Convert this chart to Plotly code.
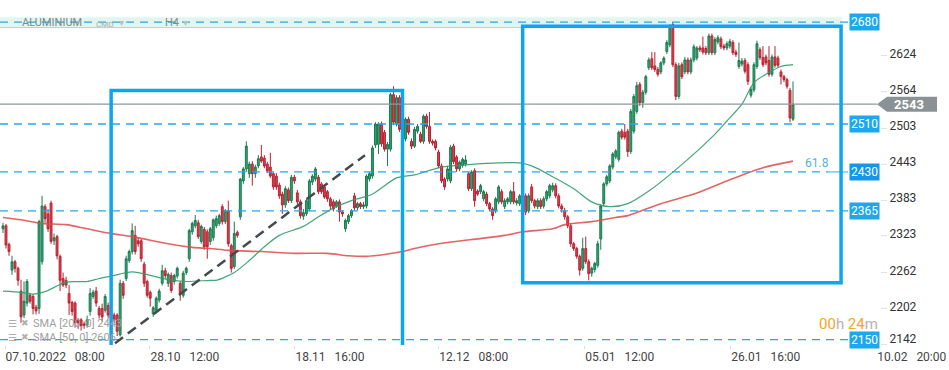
import plotly.graph_objects as go

# ---------------- data ----------------
open_ = [
    2335,2340,2309,2266,2280,2269,2231,2191,2211,2224, 2222,2204,2202,2280,2372,2360,2378,2315,2322,2289,
    2252,2249,2227,2212,2211,2183,2183,2176,2174,2197, 2222,2231,2202,2202,2199,2207,2193,2191,2191,2158,
    2244,2252,2282,2297,2324,2315,2315,2276,2247,2229,2193,2199,2216,2244,2265,
    2244,2257,2247,2256,2244,2224,2262,2285,2330,2340, 2345,2314,2334,2330,2314,2320,2340,2344,2372,2347,
    2365,2307,2272,2329,2355,2415,
    2435,2427,2443,2427,2440,2455,2453,2443,2438,2427, 2423,2408,2393,2375,2400,2382,2421,2395,2380,2356,
    2360,2368,2413,2418,2421,2410,2405,2397,
    2385,2380,2373,2380,2363,2335,2347,2357,2390,2370, 2377,2372,2373,2418,2423,2475,2476,2510,2496,2468,
    2468,2559,2510,2554,2501,2485,2518,
    2481,2473,2498,2493,2481,2523,2506,2481,2481,2463, 2440,2418,2418,2415,2473,2455,2435,2441,2443,2427,
    2402,2432,2398,2397,2385,2393,
    2377,2368,2365,2380,2397,2372,2380,2380,2397,2378, 2377,2398,2390,2365,2405,2382,2372,2382,2373,2385,
    2390,2400,2407,2390,2373,2365,
    2355,2340,2310,2302,2289,2269,2302,2280,2261,2267, 2274,2318,2377,2410,2415,2438,2455,2451,2498,2496,
    2498,2464,2498,2531,2576,2546,
    2563,2604,2619,2607,2601,2597,2612,2631,2642,2676, 2609,2556,2609,2597,2617,2597,2617,2620,2637,2637,
    2636,2629,2657,2629,2647,2652,
    2640,2637,2640,2646,2630,2606,2610,2616,2609,2558, 2567,2606,2634,2621,2622,2616,2593,2622,2620,2597,
    2589,2584,2566,2518,
]
high = [
    2345,2343,2312,2290,2283,2272,2250,2247,2251,2228, 2226,2208,2350,2390,2376,2368,2382,2327,2325,2292,
    2262,2255,2241,2215,2214,2186,2186,2180,2190,2236, 2233,2238,2206,2210,2226,2212,2198,2195,2194,2250,
    2248,2290,2300,2344,2340,2320,2318,2280,2250,2232,2206,2222,2235,2275,2270,
    2262,2262,2260,2272,2248,2265,2272,2335,2347,2358, 2350,2342,2338,2334,2338,2352,2357,2360,2376,2368,
    2382,2310,2347,2332,2420,2438,
    2481,2447,2448,2442,2458,2475,2458,2447,2462,2430, 2428,2412,2397,2406,2404,2425,2425,2400,2384,2368,
    2386,2418,2426,2438,2425,2413,2408,2400,
    2388,2384,2383,2384,2366,2352,2360,2368,2395,2380, 2380,2380,2426,2430,2474,2513,2513,2514,2500,2480,
    2562,2573,2558,2558,2510,2521,2522,
    2486,2505,2510,2497,2526,2527,2530,2484,2484,2467, 2444,2421,2440,2475,2477,2458,2449,2454,2458,2430,
    2433,2436,2401,2410,2400,2397,
    2380,2371,2388,2408,2401,2386,2388,2400,2413,2386, 2393,2405,2394,2394,2410,2385,2386,2386,2389,2400,
    2410,2412,2411,2394,2377,2370,
    2358,2344,2313,2305,2292,2320,2322,2284,2272,2280, 2315,2376,2413,2425,2443,2463,2468,2499,2502,2510,
    2502,2535,2560,2580,2580,2567,
    2592,2621,2630,2630,2605,2615,2623,2650,2677,2680, 2613,2612,2613,2622,2621,2621,2643,2640,2641,2656,
    2640,2661,2661,2655,2658,2656,
    2644,2648,2652,2650,2634,2646,2620,2620,2613,2572, 2613,2649,2638,2640,2626,2640,2626,2640,2624,2601,
    2592,2587,2570,2581,
]
low = [
    2328,2302,2290,2258,2262,2240,2178,2186,2205,2210, 2192,2192,2193,2275,2345,2330,2310,2308,2284,2231,
    2238,2236,2191,2190,2170,2168,2165,2168,2170,2190, 2218,2205,2185,2180,2195,2185,2182,2178,2156,2155,
    2218,2248,2278,2292,2292,2305,2280,2238,2220,2205,2188,2195,2212,2240,2252,
    2238,2228,2242,2252,2215,2220,2258,2280,2325,2336, 2318,2310,2300,2285,2308,2315,2336,2340,2342,2343,
    2305,2262,2268,2320,2350,2410,
    2430,2420,2407,2420,2436,2445,2436,2428,2420,2400, 2400,2385,2360,2370,2378,2378,2410,2375,2352,2350,
    2356,2364,2408,2414,2393,2393,2385,2380,
    2368,2364,2370,2347,2355,2330,2343,2353,2365,2366, 2368,2368,2369,2414,2419,2470,2460,2472,2464,2440,
    2464,2508,2506,2497,2495,2481,2492,
    2468,2470,2494,2478,2477,2502,2477,2474,2466,2436, 2411,2400,2414,2411,2443,2430,2431,2437,2439,2398,
    2398,2372,2390,2393,2381,2373,
    2364,2350,2361,2376,2376,2368,2376,2376,2376,2374, 2373,2386,2358,2361,2378,2369,2368,2368,2369,2381,
    2386,2396,2386,2369,2362,2350,
    2336,2305,2298,2285,2257,2265,2276,2249,2255,2262, 2270,2300,2373,2406,2411,2434,2451,2447,2484,2484,
    2455,2460,2494,2527,2540,2537,
    2559,2600,2600,2597,2589,2593,2608,2627,2638,2605, 2550,2552,2585,2593,2593,2593,2613,2616,2630,2626,
    2625,2625,2625,2625,2643,2635,
    2633,2633,2636,2625,2622,2602,2606,2594,2575,2554, 2563,2602,2617,2605,2608,2589,2589,2604,2604,2576,
    2580,2569,2513,2515,
]
close = [
    2340,2308,2297,2280,2269,2249,2188,2214,2247,2214, 2202,2198,2347,2373,2352,2335,2314,2320,2290,2249,
    2241,2241,2211,2197,2178,2178,2173,2174,2183,2227, 2229,2211,2191,2188,2222,2191,2187,2183,2164,2244,
    2224,2285,2297,2332,2297,2310,2285,2244,2224,2219,2203,2219,2231,2265,2257,
    2259,2232,2257,2269,2227,2261,2269,2332,2344,2349, 2322,2339,2305,2305,2335,2350,2352,2357,2347,2365,
    2310,2269,2327,2324,2418,2435,
    2473,2443,2427,2438,2452,2448,2440,2432,2423,2405, 2405,2390,2375,2402,2382,2421,2415,2380,2357,2362,
    2382,2415,2423,2435,2397,2397,2388,2385,
    2373,2368,2380,2363,2360,2349,2357,2365,2370,2377, 2372,2375,2423,2427,2470,2510,2510,2477,2468,2476,
    2559,2513,2554,2501,2505,2518,2496,
    2473,2501,2506,2481,2523,2506,2481,2478,2470,2440, 2415,2405,2435,2471,2447,2435,2446,2451,2450,2402,
    2430,2382,2393,2407,2397,2377,
    2368,2357,2385,2405,2380,2382,2385,2397,2380,2382, 2390,2390,2363,2390,2382,2373,2382,2372,2385,2397,
    2407,2407,2390,2373,2368,2355,
    2340,2310,2302,2289,2266,2302,2280,2260,2269,2277, 2310,2373,2410,2422,2440,2460,2465,2496,2488,2488,
    2464,2531,2556,2574,2546,2563,
    2589,2617,2604,2601,2593,2612,2620,2646,2672,2609, 2556,2607,2589,2617,2597,2617,2639,2637,2634,2630,
    2629,2657,2629,2651,2654,2639,
    2637,2644,2648,2629,2626,2616,2615,2598,2581,2568, 2609,2644,2621,2609,2612,2593,2622,2608,2608,2589,
    2584,2573,2520,2543,
]

# moving averages, read as points (candle index, price)
sma200_x = [0, 6, 13, 21, 28, 36, 43, 55, 63, 69, 75, 86, 97, 108, 115, 121, 127, 133, 137, 145,
            156, 167, 173, 183, 187, 196, 204, 208, 219, 230, 241, 253, 263]
sma200 = [2354, 2350, 2344, 2342, 2335, 2327, 2322, 2310, 2304, 2302, 2299, 2297, 2294, 2294, 2290, 2289,
          2292, 2297, 2302, 2310, 2317, 2324, 2330, 2335, 2342, 2347, 2354, 2357, 2377, 2393, 2415, 2437, 2448]
sma50_x = [0, 6, 10, 14, 21, 28, 32, 36, 43, 50, 55, 61, 69, 71, 77, 82, 87, 92, 100, 105,
           111, 116, 123, 131, 137, 146, 155, 165, 172, 176, 183, 190, 196, 202, 208, 215, 225, 236, 241, 246,
           250, 255, 259, 263]
sma50 = [2231, 2229, 2226, 2230, 2246, 2247, 2252, 2256, 2263, 2256, 2250, 2247, 2249, 2249, 2262, 2282,
         2305, 2324, 2339, 2355, 2372, 2382, 2393, 2420, 2425, 2438, 2442, 2445, 2445, 2440, 2422, 2402,
         2380, 2372, 2377, 2398, 2438, 2488, 2515, 2543, 2579, 2596, 2606, 2609]

tick_idx = [0.7, 48.9, 97.2, 145.1, 193.7, 242.3, 290.9]
tick_text = ["07.10.2022   08:00", "28.10   12:00", "18.11   16:00", "12.12   08:00",
             "05.01   12:00", "26.01   16:00", "10.02   20:00"]
price_ticks = [2142, 2202, 2262, 2323, 2383, 2443, 2503, 2564, 2624]

levels = [2680, 2510, 2430, 2365, 2150]
current_price = 2543
fib_label = "61.8"
fib_price = 2445
# drawing objects: (start index, end index, top price, bottom price)
boxes = [(36, 133, 2566, 2100), (173, 279, 2673, 2245)]
trend = [(37.3, 2144), (120.5, 2458)]
sma_labels = ["SMA [200, 0] 2443", "SMA [50, 0] 2606"]

# ---------------- layout geometry ----------------
W, H = 949, 370
PLOT_W, PLOT_H = 880, 345
FIRST_PX, LAST_PX = 3, 793
N = len(close)
assert len(open_) == len(high) == len(low) == N
step = (LAST_PX - FIRST_PX) / (N - 1)
x_range = [-FIRST_PX / step, (PLOT_W - FIRST_PX) / step]
y_range = [2141, 2717]
ppu = PLOT_H / (y_range[1] - y_range[0])  # pixels per price unit


def px(p):
    return p / PLOT_W


FONT = "Roboto, Arial, sans-serif"
BLUE = "#0ea5ef"
DASH_BLUE = "#2aa6e6"

fig = go.Figure()

fig.add_trace(go.Scatter(x=sma200_x, y=sma200, mode="lines", hoverinfo="skip", showlegend=False,
                         line=dict(color="#e04a4a", width=1.6, shape="spline", smoothing=0.8), opacity=0.85))
fig.add_trace(go.Scatter(x=sma50_x, y=sma50, mode="lines", hoverinfo="skip", showlegend=False,
                         line=dict(color="#2f9d6c", width=1.2, shape="spline", smoothing=0.8), opacity=0.9))

fig.add_trace(go.Candlestick(
    x=list(range(N)), open=open_, high=high, low=low, close=close,
    increasing=dict(line=dict(color="#1d7a50", width=1), fillcolor="#2fa673"),
    decreasing=dict(line=dict(color="#b42432", width=1), fillcolor="#e33d4c"),
    whiskerwidth=0, showlegend=False, hoverinfo="skip"))

# empty trace so that the overlaying price axis (lowest label) is drawn
fig.add_trace(go.Scatter(x=[], y=[], yaxis="y2", mode="lines", showlegend=False, hoverinfo="skip"))

shapes = []
# top mint band around the first level
shapes.append(dict(type="rect", xref="paper", yref="y", x0=0, x1=px(842), y0=levels[0] - 9, y1=levels[0] + 8,
                   fillcolor="#e2f5ee", line=dict(width=0), layer="below"))
shapes.append(dict(type="line", xref="paper", yref="y", x0=0, x1=px(842), y0=levels[0] - 9, y1=levels[0] - 9,
                   line=dict(color="#a8dcc9", width=1)))
for lvl in levels:
    end = 828 if lvl == 2430 else 848
    shapes.append(dict(type="line", xref="paper", yref="y", x0=0, x1=px(end), y0=lvl, y1=lvl,
                       line=dict(color=DASH_BLUE, width=1.3, dash="8px,6px")))
shapes.append(dict(type="line", xref="paper", yref="y", x0=px(828), x1=px(848), y0=2430, y1=2430,
                   line=dict(color="#7cc4ee", width=1.5)))
# current price line
shapes.append(dict(type="line", xref="paper", yref="y", x0=0, x1=px(877), y0=current_price, y1=current_price,
                   line=dict(color="#8e979b", width=1.2)))
# rectangles
for (a, b, top, bot) in boxes:
    shapes.append(dict(type="rect", xref="x", yref="y", x0=a, x1=b, y0=bot, y1=top,
                       line=dict(color=BLUE, width=3.5), fillcolor="rgba(0,0,0,0)"))
# trend line
shapes.append(dict(type="line", xref="x", yref="y", x0=trend[0][0], y0=trend[0][1], x1=trend[1][0], y1=trend[1][1],
                   line=dict(color="#454a4f", width=2.5, dash="10px,6px")))
# current price tag (arrow shape)
hh = 7.5 / ppu
path = (f"M {px(877)},{current_price} L {px(887)},{current_price + hh} L {px(937)},{current_price + hh} "
        f"L {px(937)},{current_price - hh} L {px(887)},{current_price - hh} Z")
shapes.append(dict(type="path", xref="paper", yref="y", path=path, fillcolor="#8a9296", line=dict(width=0)))

ann = []
for lvl in levels:
    ann.append(dict(xref="paper", yref="y", x=px(864.5), y=lvl, text=str(lvl), showarrow=False,
                    xanchor="center", yanchor="middle", bgcolor="#1596e6" if lvl == 2430 else "#1da8ee",
                    borderpad=1, font=dict(family=FONT, size=12, color="white")))
ann.append(dict(xref="paper", yref="y", x=px(909), y=current_price, text=f"<b>{current_price}</b>",
                showarrow=False, xanchor="center", yanchor="middle",
                font=dict(family=FONT, size=13, color="white")))
ann.append(dict(xref="paper", yref="y", x=px(817), y=fib_price, text=fib_label,
                showarrow=False, xanchor="center", yanchor="middle",
                font=dict(family=FONT, size=12, color="#4db3ea")))
ann.append(dict(xref="paper", yref="paper", x=1.0, y=1 - 324 / PLOT_H, showarrow=False,
                xanchor="right", yanchor="middle",
                text='<span style="color:#f5a623">00</span><span style="color:#b3b3b3">h </span>'
                     '<span style="color:#f5a623">24</span><span style="color:#b3b3b3">m</span>',
                font=dict(family=FONT, size=15)))
# header
ann.append(dict(xref="paper", yref="paper", x=px(20), y=1 - 22 / PLOT_H, text="ALUMINIUM", showarrow=False,
                xanchor="left", yanchor="middle", font=dict(family=FONT, size=11, color="#7d8a8c")))
ann.append(dict(xref="paper", yref="paper", x=px(94), y=1 - 24 / PLOT_H, text="CMD", showarrow=False,
                xanchor="left", yanchor="middle", font=dict(family=FONT, size=8, color="#a9b0b2")))
ann.append(dict(xref="paper", yref="paper", x=px(117), y=1 - 22 / PLOT_H, text="▾", showarrow=False,
                xanchor="left", yanchor="middle", font=dict(family=FONT, size=10, color="#b9c0c2")))
ann.append(dict(xref="paper", yref="paper", x=px(163), y=1 - 22 / PLOT_H, text="H4", showarrow=False,
                xanchor="left", yanchor="middle", font=dict(family=FONT, size=11, color="#7d8a8c")))
ann.append(dict(xref="paper", yref="paper", x=px(181), y=1 - 22 / PLOT_H, text="▾", showarrow=False,
                xanchor="left", yanchor="middle", font=dict(family=FONT, size=10, color="#b9c0c2")))
# indicator legend
for k, txt in enumerate(sma_labels):
    yy = 1 - (323 + 14 * k) / PLOT_H
    ann.append(dict(xref="paper", yref="paper", x=px(6), y=yy, text="☰", showarrow=False,
                    xanchor="left", yanchor="middle", font=dict(family="DejaVu Sans", size=10, color="#b0b0b0")))
    ann.append(dict(xref="paper", yref="paper", x=px(19), y=yy, text="✖", showarrow=False,
                    xanchor="left", yanchor="middle", font=dict(family="DejaVu Sans", size=9, color="#b0b0b0")))
    ann.append(dict(xref="paper", yref="paper", x=px(31), y=yy, text=txt, showarrow=False,
                    xanchor="left", yanchor="middle", font=dict(family=FONT, size=11, color="#a0a0a0")))

yaxis_common = dict(range=y_range, side="right", ticks="outside", ticklen=6, tickcolor="#e3e3e3",
                    showgrid=False, zeroline=False, showline=False,
                    tickfont=dict(family=FONT, size=12, color="#333333"), fixedrange=True, automargin=False)

fig.update_layout(
    width=W, height=H,
    margin=dict(l=0, r=W - PLOT_W, t=0, b=H - PLOT_H, autoexpand=False),
    paper_bgcolor="white", plot_bgcolor="white",
    shapes=shapes, annotations=ann,
    showlegend=False, boxgap=0.1,
    xaxis=dict(range=x_range, tickvals=tick_idx, ticktext=[t.replace(" ", "\u00a0") for t in tick_text],
               ticks="outside", ticklen=3, tickcolor="#dddddd", showgrid=False, zeroline=False,
               showline=False, rangeslider=dict(visible=False), ticklabelposition="outside right",
               tickfont=dict(family=FONT, size=12, color="#444444"), fixedrange=True, automargin=False,
               ticklabelstandoff=1),
    # the lowest price label sits pushed up from the bottom edge, as in the reference
    yaxis=dict(tickvals=price_ticks[1:], ticktext=[str(v) for v in price_ticks[1:]], ticklabelshift=-2,
               **yaxis_common),
    yaxis2=dict(overlaying="y", tickvals=price_ticks[:1], ticktext=[str(v) for v in price_ticks[:1]],
                ticklabelshift=-6, **yaxis_common),
)

fig.write_html("out.html", config={"displayModeBar": False},
               post_script="document.body.style.margin='0';document.body.style.overflow='hidden';")
